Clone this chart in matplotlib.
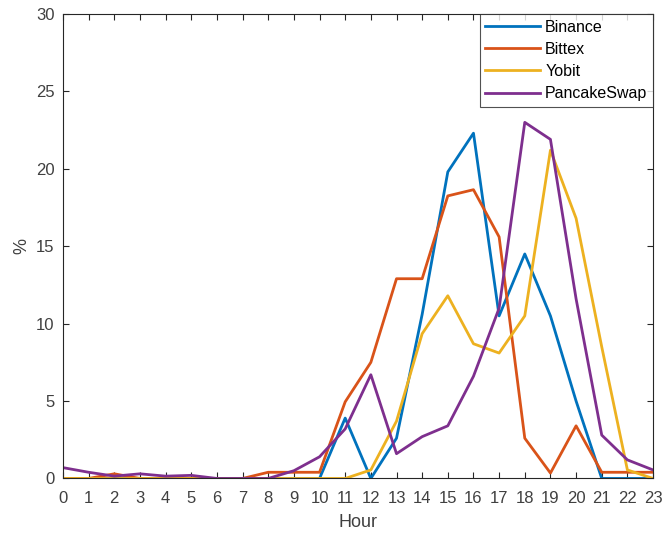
import numpy as np
import matplotlib.pyplot as plt

plt.rcParams['font.family'] = ['Liberation Sans', 'DejaVu Sans']

hours = np.arange(24)
binance = [0, 0, 0, 0, 0, 0, 0, 0, 0, 0, 0, 3.9, 0, 2.6, 10.6, 19.8,
           22.3, 10.5, 14.5, 10.5, 5.0, 0, 0, 0]
bittex = [0, 0, 0.3, 0, 0, 0, 0, 0, 0.4, 0.4, 0.4, 4.95, 7.5, 12.9, 12.9, 18.25,
          18.65, 15.6, 2.6, 0.35, 3.4, 0.4, 0.4, 0.4]
yobit = [0, 0, 0, 0, 0, 0, 0, 0, 0, 0, 0, 0, 0.55, 3.7, 9.35, 11.8,
         8.7, 8.1, 10.5, 21.2, 16.8, 8.5, 0.55, 0]
pancake = [0.7, 0.4, 0.15, 0.3, 0.15, 0.2, 0, 0, 0, 0.5, 1.4, 3.2, 6.7, 1.6, 2.7, 3.4,
           6.6, 11.0, 23.0, 21.9, 11.6, 2.8, 1.2, 0.55]

names = ['Binance', 'Bittex', 'Yobit', 'PancakeSwap']
colors = ['#0072BD', '#D95319', '#EDB120', '#7E2F8E']

fig = plt.figure(figsize=(6.63, 5.37), dpi=100)
ax = fig.add_axes([0.095, 0.109, 0.89, 0.865])

for series, name, col in zip([binance, bittex, yobit, pancake], names, colors):
    ax.plot(hours, series, color=col, linewidth=2.0, label=name)

axcol = '#262626'
ax.set_xlim(0, 23)
ax.set_ylim(0, 30)
ax.set_xticks(hours)
ax.set_yticks(np.arange(0, 31, 5))
ax.tick_params(direction='in', top=True, right=True, length=4, width=0.8,
               colors=axcol, labelsize=12, labelcolor='#404040')
ax.tick_params(axis='x', pad=9)
ax.tick_params(axis='y', pad=6)
for sp in ax.spines.values():
    sp.set_color(axcol)
    sp.set_linewidth(0.8)

ax.set_xlabel('Hour', fontsize=13, color='#404040', labelpad=6)
ax.set_ylabel('%', fontsize=13, color='#404040')

leg = ax.legend(loc='upper right', borderaxespad=0, fancybox=False,
                edgecolor=axcol, fontsize=11.5, handlelength=3.4,
                handletextpad=0.35, labelspacing=0.45, borderpad=0.35)
leg.get_frame().set_linewidth(0.8)

fig.savefig('out.png', dpi=100)
